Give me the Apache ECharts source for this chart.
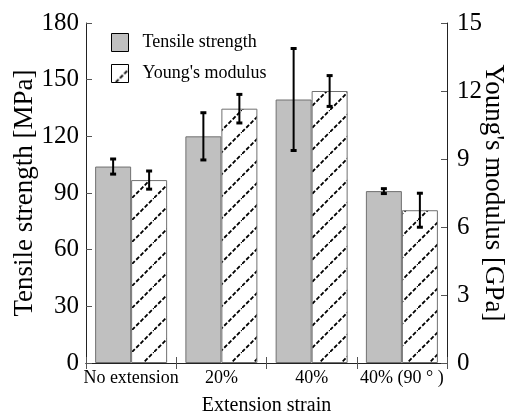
<!DOCTYPE html>
<html>
<head>
<meta charset="utf-8">
<script src="https://cdn.jsdelivr.net/npm/echarts@6/dist/echarts.min.js"></script>
<style>
  html, body { margin: 0; padding: 0; background: #fff; }
  #chart { width: 507px; height: 413px; }
</style>
</head>
<body>
<div id="chart"></div>
<script>
// data
const categories = ['No extension', '20%', '40%', '40% (90 ° )'];
const tensile = [104, 120, 139.5, 91];        // MPa
const tensileErr = [4, 12.5, 27, 1.3];
const modulus = [8.07, 11.22, 12.0, 6.74];    // GPa
const modulusErr = [0.4, 0.63, 0.68, 0.75];
const leftTicks = { min: 0, max: 180, interval: 30 };
const rightTicks = { min: 0, max: 15, interval: 3 };

const FONT = 'Liberation Serif';
const BAR_W = 36;

// hatch pattern for the Young's modulus bars
function makeHatch() {
  const s = 22;
  const c = document.createElement('canvas');
  c.width = s; c.height = s;
  const ctx = c.getContext('2d');
  ctx.fillStyle = '#fff';
  ctx.fillRect(0, 0, s, s);
  ctx.strokeStyle = '#000';
  ctx.lineWidth = 1.8;
  ctx.setLineDash([4, 2]);
  ctx.beginPath();
  ctx.moveTo(0, s);
  ctx.lineTo(s, 0);
  ctx.stroke();
  return c;
}
const hatch = makeHatch();

// error bar drawn at bar centre (offset from the category centre)
function errorBar(offset) {
  return function (params, api) {
    const idx = api.value(0);
    const hi = api.coord([idx, api.value(1) + api.value(2)]);
    const lo = api.coord([idx, api.value(1) - api.value(2)]);
    const x = hi[0] + offset;
    const cap = 3;
    const style = { stroke: '#000', lineWidth: 2 };
    return {
      type: 'group',
      children: [
        { type: 'line', shape: { x1: x, y1: hi[1], x2: x, y2: lo[1] }, style: style },
        { type: 'line', shape: { x1: x - cap, y1: hi[1], x2: x + cap, y2: hi[1] }, style: { stroke: '#000', lineWidth: 3 } },
        { type: 'line', shape: { x1: x - cap, y1: lo[1], x2: x + cap, y2: lo[1] }, style: { stroke: '#000', lineWidth: 3 } }
      ]
    };
  };
}

const chart = echarts.init(document.getElementById('chart'));

const axisLine = { show: true, lineStyle: { color: '#222', width: 1 } };

chart.setOption({
  animation: false,
  textStyle: { fontFamily: FONT, color: '#000' },
  grid: { left: 86, right: 60, top: 23, bottom: 50, outerBoundsMode: 'none' },
  legend: {
    data: ['Tensile strength', "Young's modulus"],
    orient: 'vertical',
    left: 111,
    top: 33,
    padding: 0,
    itemWidth: 17,
    itemHeight: 18,
    itemGap: 12,
    icon: 'rect',
    itemStyle: { borderColor: '#000', borderWidth: 1 },
    textStyle: { fontFamily: FONT, fontSize: 18, color: '#000', padding: [0, 0, 0, 9] }
  },
  xAxis: [
    {
      type: 'category',
      data: categories,
      name: 'Extension strain',
      nameLocation: 'middle',
      nameGap: 33,
      nameMoveOverlap: false,
      nameTextStyle: { fontFamily: FONT, fontSize: 20, color: '#000' },
      axisLine: axisLine,
      axisTick: { show: true, inside: true, length: 6, lineStyle: { color: '#555' } },
      axisLabel: { fontFamily: FONT, fontSize: 18, color: '#000', margin: 6, interval: 0 }
    },
    {
      type: 'category',
      data: categories,
      position: 'top',
      axisLine: axisLine,
      axisTick: { show: true, inside: true, length: 6, lineStyle: { color: '#555' } },
      axisLabel: { show: false }
    }
  ],
  yAxis: [
    {
      type: 'value',
      min: leftTicks.min,
      max: leftTicks.max,
      interval: leftTicks.interval,
      name: 'Tensile strength [MPa]',
      nameLocation: 'middle',
      nameGap: 48,
      nameMoveOverlap: false,
      nameTextStyle: { fontFamily: FONT, fontSize: 27, color: '#000' },
      axisLine: axisLine,
      axisTick: { show: true, inside: true, length: 6, lineStyle: { color: '#555' } },
      axisLabel: { fontFamily: FONT, fontSize: 25, color: '#000', margin: 7 },
      splitLine: { show: false }
    },
    {
      type: 'value',
      position: 'right',
      min: rightTicks.min,
      max: rightTicks.max,
      interval: rightTicks.interval,
      name: "Young's modulus [GPa]",
      nameLocation: 'middle',
      nameGap: 33,
      nameRotate: -90,
      nameMoveOverlap: false,
      nameTextStyle: { fontFamily: FONT, fontSize: 27, color: '#000' },
      axisLine: axisLine,
      axisTick: { show: true, inside: true, length: 6, lineStyle: { color: '#555' } },
      axisLabel: { fontFamily: FONT, fontSize: 25, color: '#000', margin: 10 },
      splitLine: { show: false }
    }
  ],
  series: [
    {
      name: 'Tensile strength',
      type: 'bar',
      yAxisIndex: 0,
      data: tensile,
      barWidth: BAR_W,
      barGap: '0%',
      itemStyle: { color: '#c0c0c0', borderColor: '#707070', borderWidth: 1 }
    },
    {
      name: "Young's modulus",
      type: 'bar',
      yAxisIndex: 1,
      data: modulus,
      barWidth: BAR_W,
      barGap: '0%',
      itemStyle: { color: { image: hatch, repeat: 'repeat' }, borderColor: '#707070', borderWidth: 1 }
    },
    {
      name: 'tensile err',
      type: 'custom',
      yAxisIndex: 0,
      z: 5,
      renderItem: errorBar(-BAR_W / 2),
      data: tensile.map((v, i) => [i, v, tensileErr[i]])
    },
    {
      name: 'modulus err',
      type: 'custom',
      yAxisIndex: 1,
      z: 5,
      renderItem: errorBar(BAR_W / 2),
      data: modulus.map((v, i) => [i, v, modulusErr[i]])
    }
  ]
});
</script>
</body>
</html>
